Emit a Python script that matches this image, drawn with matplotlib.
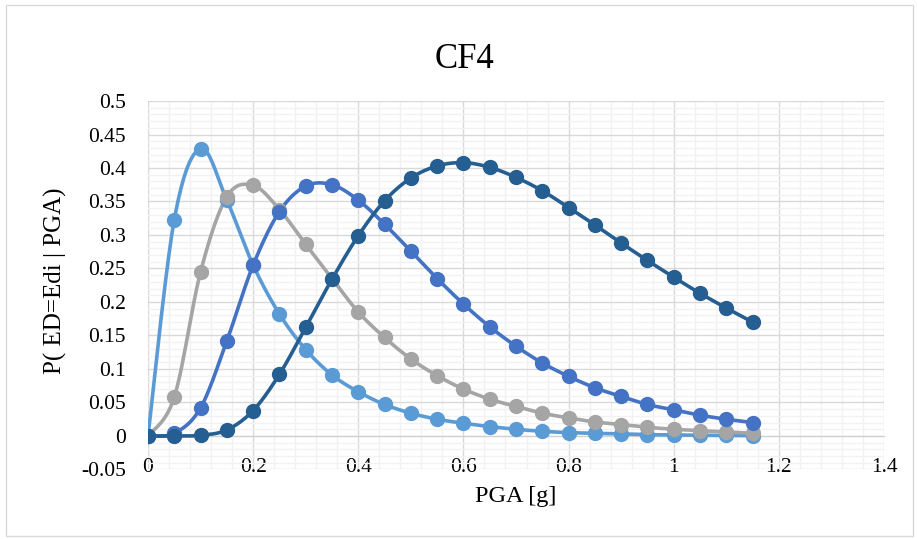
import numpy as np
import matplotlib
matplotlib.use('Agg')
import matplotlib.pyplot as plt
from matplotlib.patches import Rectangle
from matplotlib.ticker import MultipleLocator

plt.rcParams['font.family'] = ['Liberation Serif', 'DejaVu Serif']

# PGA values (g) and probability for each damage state
pga = [0, 0.05, 0.1, 0.15, 0.2, 0.25, 0.3, 0.35, 0.4, 0.45, 0.5, 0.55,
       0.6, 0.65, 0.7, 0.75, 0.8, 0.85, 0.9, 0.95, 1.0, 1.05, 1.1, 1.15]
ed1 = [0, 0.323, 0.429, 0.352, 0.255, 0.182, 0.129, 0.091, 0.066, 0.047, 0.034, 0.025,
       0.019, 0.014, 0.010, 0.007, 0.005, 0.004, 0.003, 0.002, 0.0015, 0.001, 0.0008, 0.0006]
ed2 = [0, 0.058, 0.245, 0.357, 0.374, 0.338, 0.286, 0.235, 0.185, 0.147, 0.115, 0.090,
       0.070, 0.055, 0.044, 0.034, 0.027, 0.021, 0.017, 0.013, 0.010, 0.008, 0.006, 0.004]
ed3 = [0, 0.004, 0.042, 0.142, 0.255, 0.335, 0.373, 0.375, 0.352, 0.316, 0.276, 0.235,
       0.197, 0.163, 0.134, 0.109, 0.089, 0.072, 0.059, 0.047, 0.039, 0.031, 0.025, 0.020]
ed4 = [0, 0.0, 0.001, 0.009, 0.038, 0.092, 0.162, 0.234, 0.299, 0.351, 0.385, 0.403,
       0.408, 0.401, 0.386, 0.366, 0.341, 0.315, 0.288, 0.262, 0.237, 0.213, 0.191, 0.170]

colors = ['#5B9BD5', '#A5A5A5', '#4472C4', '#255E91']


def smooth(x, y, n=20):
    # catmull-rom through the points, like excel's smoothed line
    x = np.asarray(x, float)
    y = np.asarray(y, float)
    px = np.concatenate([[x[0]], x, [x[-1]]])
    py = np.concatenate([[y[0]], y, [y[-1]]])
    t = np.linspace(0, 1, n, endpoint=False)
    xs, ys = [], []
    for i in range(1, len(px) - 2):
        for p, out in ((px, xs), (py, ys)):
            p0, p1, p2, p3 = p[i - 1], p[i], p[i + 1], p[i + 2]
            out.extend(0.5 * (2 * p1 + (-p0 + p2) * t + (2 * p0 - 5 * p1 + 4 * p2 - p3) * t ** 2
                              + (-p0 + 3 * p1 - 3 * p2 + p3) * t ** 3))
    xs.append(x[-1])
    ys.append(y[-1])
    return xs, ys


fig = plt.figure(figsize=(9.17, 5.39), dpi=100)
ax = fig.add_axes([0.1614, 0.129, 0.8026, 0.6836])

for s, c in zip([ed1, ed2, ed3, ed4], colors):
    sx, sy = smooth(pga, s)
    ax.plot(sx, sy, color=c, lw=2.6, zorder=3, solid_capstyle='round')
    ax.plot(pga, s, 'o', color=c, ms=10, zorder=4)

ax.set_xlim(0, 1.4)
ax.set_ylim(-0.05, 0.5)
ax.xaxis.set_major_locator(MultipleLocator(0.2))
ax.xaxis.set_minor_locator(MultipleLocator(0.04))
ax.yaxis.set_major_locator(MultipleLocator(0.05))
ax.yaxis.set_minor_locator(MultipleLocator(0.01))
ax.grid(which='minor', color='#F2F2F2', lw=1.0, zorder=0)
ax.grid(which='major', color='#D9D9D9', lw=1.0, zorder=1)
ax.set_axisbelow(True)

for sp in ['top', 'right', 'left']:
    ax.spines[sp].set_visible(False)
ax.spines['bottom'].set_position(('data', 0))
ax.spines['bottom'].set_color('#D0D0D0')
ax.tick_params(which='both', length=0)
ax.tick_params(axis='x', pad=16, labelsize=15.5)
ax.tick_params(axis='y', pad=16, labelsize=15.5)

ax.set_xticks(np.arange(0, 1.41, 0.2))
ax.set_xticklabels(['0', '0.2', '0.4', '0.6', '0.8', '1', '1.2', '1.4'])
ax.set_yticks(np.arange(-0.05, 0.501, 0.05))
ax.set_yticklabels(['-0.05', '0', '0.05', '0.1', '0.15', '0.2', '0.25', '0.3',
                    '0.35', '0.4', '0.45', '0.5'])

fig.text(0.5 * (0.1614 + 0.964), 0.078, 'PGA [g]', ha='center', va='center', fontsize=17.5)
fig.text(0.061, 0.48, 'P( ED=Edi | PGA)', ha='center', va='center', rotation=90, fontsize=18)
fig.text(0.507, 0.889, 'CF4', ha='center', va='center', fontsize=25)

fig.patches.append(Rectangle((0.006, 0.006), 0.99, 0.985, transform=fig.transFigure,
                             fill=False, edgecolor='#D9D9D9', lw=1.0))

plt.savefig('out.png', dpi=100)
plt.close()
